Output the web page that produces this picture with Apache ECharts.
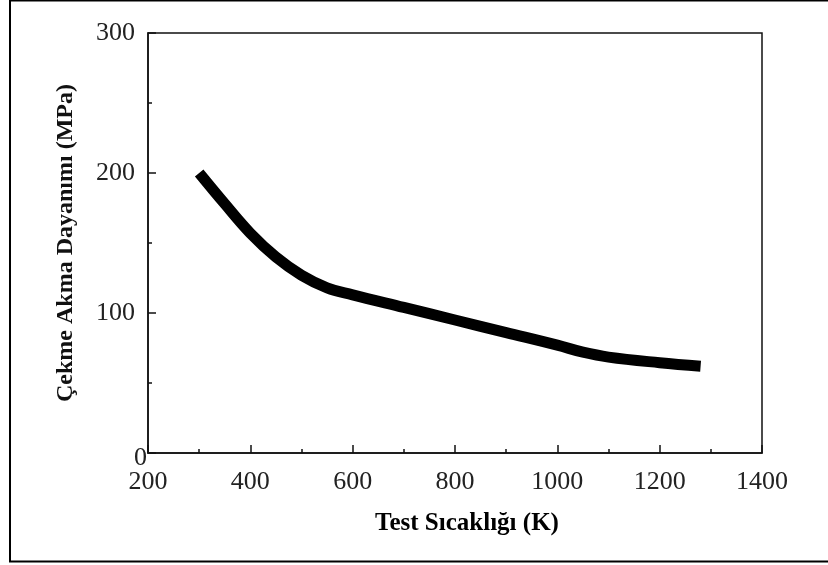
<!DOCTYPE html>
<html>
<head>
<meta charset="utf-8">
<script src="https://cdn.jsdelivr.net/npm/echarts@6/dist/echarts.min.js"></script>
<style>html,body{margin:0;padding:0;background:#fff;}#c{width:828px;height:565px;}</style>
</head>
<body>
<div id="c"></div>
<script>
var temps = [300, 350, 400, 450, 500, 550, 600, 700, 800, 900, 1000, 1050, 1100, 1200, 1280];
var strength = [200, 178, 157, 140, 127, 118, 113, 104, 95, 86, 77, 72, 68.5, 64.5, 62];
var xTitle = 'Test Sıcaklığı (K)';
var yTitle = 'Çekme Akma Dayanımı (MPa)';

var chart = echarts.init(document.getElementById('c'));
var font = 'Liberation Serif';
chart.setOption({
  backgroundColor: '#fff',
  animation: false,
  grid: { left: 148, right: 66, top: 33, bottom: 112, show: true, borderColor: '#111', borderWidth: 1.5, backgroundColor: 'transparent' },
  graphic: [{
    type: 'rect', silent: true,
    shape: { x: 10, y: 0.5, width: 830, height: 561 },
    style: { fill: 'none', stroke: '#000', lineWidth: 2 }
  }],
  xAxis: {
    type: 'value', min: 200, max: 1400, interval: 200,
    name: xTitle, nameLocation: 'middle', nameGap: 58,
    nameTextStyle: { fontFamily: font, fontWeight: 'bold', fontSize: 25, color: '#000', padding: [0, 0, 0, 24] },
    axisLine: { lineStyle: { color: '#111', width: 1.5 } },
    axisTick: { inside: true, length: 8, lineStyle: { color: '#111', width: 1.5 } },
    minorTick: { show: true, splitNumber: 2, length: 4, lineStyle: { color: '#111', width: 1.5 } },
    splitLine: { show: false },
    axisLabel: { fontFamily: font, fontSize: 26, color: '#222', margin: 16,
      formatter: function (v) { return String(v); } }
  },
  yAxis: {
    type: 'value', min: 0, max: 300, interval: 100,
    name: yTitle, nameLocation: 'middle', nameGap: 70,
    nameTextStyle: { fontFamily: font, fontWeight: 'bold', fontSize: 24, color: '#111', padding: [0, 0, 0, 0] },
    axisLine: { lineStyle: { color: '#111', width: 1.5 } },
    axisTick: { inside: true, length: 8, lineStyle: { color: '#111', width: 1.5 } },
    minorTick: { show: true, splitNumber: 2, length: 4, lineStyle: { color: '#111', width: 1.5 } },
    splitLine: { show: false },
    axisLabel: {
      fontFamily: font, fontSize: 26, color: '#222', margin: 1,
      formatter: function (v) { return v === 0 ? '{z|0}' : '{n|' + v + '}'; },
      rich: {
        n: { fontFamily: font, fontSize: 26, color: '#222', padding: [0, 12, 0, 0] },
        z: { fontFamily: font, fontSize: 26, color: '#222', padding: [10, 0, 0, 0] }
      }
    }
  },
  series: [{
    type: 'line',
    data: temps.map(function (t, i) { return [t, strength[i]]; }),
    smooth: 0.4,
    symbol: 'none',
    lineStyle: { color: '#000', width: 11, cap: 'butt', join: 'round' }
  }]
});
</script>
</body>
</html>
